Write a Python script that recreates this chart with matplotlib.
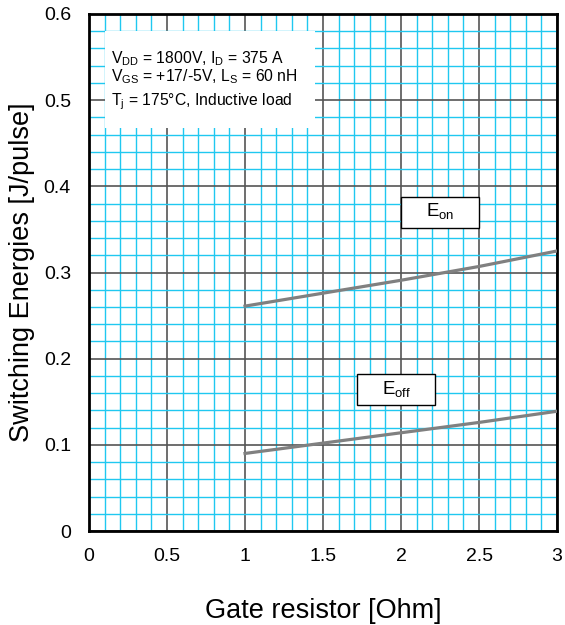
import matplotlib.pyplot as plt
from matplotlib.patches import Rectangle
from matplotlib.ticker import MultipleLocator

plt.rcParams['font.family'] = ['Liberation Sans', 'DejaVu Sans']
plt.rcParams['mathtext.fontset'] = 'custom'
plt.rcParams['mathtext.rm'] = 'Liberation Sans'

# gate resistor [Ohm] and switching energies [J/pulse]
rg = [1.0, 1.5, 2.0, 2.5, 3.0]
e_on = [0.261, 0.276, 0.291, 0.307, 0.325]
e_off = [0.090, 0.102, 0.114, 0.126, 0.139]

x_ticks = [0, 0.5, 1, 1.5, 2, 2.5, 3]
x_tick_labels = ["0", "0.5", "1", "1.5", "2", "2.5", "3"]
y_ticks = [0, 0.1, 0.2, 0.3, 0.4, 0.5, 0.6]
y_tick_labels = ["0", "0.1", "0.2", "0.3", "0.4", "0.5", "0.6"]

cond_lines = ["V$_{\\rm DD}$ = 1800V, I$_{\\rm D}$ = 375 A",
              "V$_{\\rm GS}$ = +17/-5V, L$_{\\rm S}$ = 60 nH",
              "T$_{\\rm j}$ = 175°C, Inductive load"]

fig = plt.figure(figsize=(5.65, 6.25), dpi=100)
ax = fig.add_axes([0.1575, 0.1504, 0.8285, 0.8272])

ax.set_xlim(0, 3)
ax.set_ylim(0, 0.6)
ax.xaxis.set_minor_locator(MultipleLocator(0.1))
ax.yaxis.set_minor_locator(MultipleLocator(0.02))
ax.set_xticks(x_ticks)
ax.set_xticklabels(x_tick_labels, fontsize=14)
ax.set_yticks(y_ticks)
ax.set_yticklabels(y_tick_labels, fontsize=14)
ax.tick_params(which='both', length=0)
ax.tick_params(axis='x', pad=12)
ax.tick_params(axis='y', pad=13)

ax.grid(which='minor', color='#20c8f0', linewidth=1.0, zorder=0)
ax.grid(which='major', color='#555555', linewidth=1.2, zorder=0)
ax.set_axisbelow(True)
for s in ax.spines.values():
    s.set_linewidth(2)
    s.set_color('black')

ax.plot(rg, e_on, color='#808080', linewidth=2.3, zorder=3)
ax.plot(rg, e_off, color='#808080', linewidth=2.3, zorder=3)

# conditions box (white, no border)
ax.add_patch(Rectangle((0.10, 0.468), 1.35, 0.112, facecolor='white',
                       edgecolor='none', zorder=2))
for txt, yb in zip(cond_lines, [0.543, 0.5214, 0.4944]):
    ax.text(0.141, yb, txt, fontsize=11.3, va='baseline', ha='left', zorder=4)

# curve labels
ax.add_patch(Rectangle((2.0, 0.352), 0.5, 0.036, facecolor='white',
                       edgecolor='black', linewidth=1, zorder=4))
ax.text(2.25, 0.370, "E$_{\\rm on}$", fontsize=13.5, ha='center', va='center', zorder=5)
ax.add_patch(Rectangle((1.72, 0.146), 0.5, 0.036, facecolor='white',
                       edgecolor='black', linewidth=1, zorder=4))
ax.text(1.97, 0.164, "E$_{\\rm off}$", fontsize=13.5, ha='center', va='center', zorder=5)

ax.set_xlabel("Gate resistor [Ohm]", fontsize=19.5, labelpad=24)
ax.set_ylabel("Switching Energies [J/pulse]", fontsize=19.5, labelpad=6)

fig.savefig("out.png", dpi=100)
